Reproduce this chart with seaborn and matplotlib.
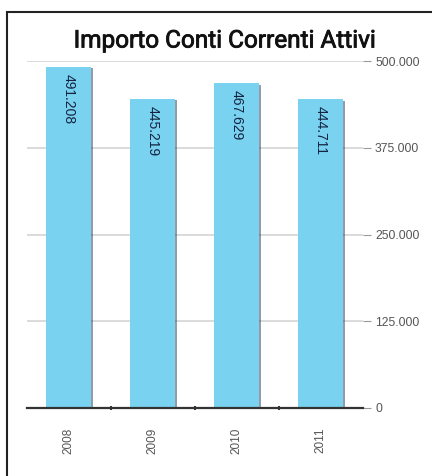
import matplotlib
matplotlib.use("Agg")
import matplotlib.pyplot as plt
import matplotlib.patheffects as pe
from matplotlib.patches import Rectangle
from matplotlib.ticker import FixedLocator
import seaborn as sns
import pandas as pd

# Data
anni = ["2008", "2009", "2010", "2011"]
importi = [491208, 445219, 467629, 444711]
etichette = ["491.208", "445.219", "467.629", "444.711"]
tick_valori = [0, 125000, 250000, 375000, 500000]
tick_testi = ["0", "125.000", "250.000", "375.000", "500.000"]
titolo = "Importo Conti Correnti Attivi"

sns.set_theme(style="white")
plt.rcParams["font.family"] = ["Liberation Sans", "DejaVu Sans"]

W, H = 432, 476
fig = plt.figure(figsize=(W / 100, H / 100), dpi=100)
ax = fig.add_axes([26.5 / W, (H - 408) / H, 336 / W, 347 / H])

df = pd.DataFrame({"anno": anni, "importo": importi})
sns.barplot(data=df, x="anno", y="importo", color="#78d2f0", width=0.54,
            saturation=1, ax=ax, zorder=3)

for patch in ax.patches:
    patch.set_edgecolor("none")
    patch.set_path_effects([
        pe.SimplePatchShadow(offset=(1.6, -1.0), shadow_rgbFace="#2b3a55", alpha=0.5),
        pe.Normal(),
    ])

# Value labels inside the bars
for i, (v, t) in enumerate(zip(importi, etichette)):
    ax.annotate(t, (i, v), xytext=(0, -5), textcoords="offset points",
                rotation=270, ha="center", va="top", fontsize=10,
                color="#14233f", zorder=5)

ax.set_xlim(-0.5, 3.5)
ax.set_ylim(0, 500000)

# Horizontal gridlines
for v in tick_valori[1:]:
    ax.axhline(v, color="#d4d4d4", lw=1.2, zorder=1)

ax.yaxis.tick_right()
ax.set_yticks(tick_valori)
ax.set_yticklabels(tick_testi)
ax.tick_params(axis="y", which="major", length=6, width=0.8, color="#999999",
               labelsize=8.8, labelcolor="#555555", pad=3, right=True, left=False)

ax.set_xticks(range(len(anni)))
ax.set_xticklabels(anni, rotation=90)
ax.tick_params(axis="x", which="major", length=0, labelsize=8.5,
               labelcolor="#555555", pad=14)
ax.xaxis.set_minor_locator(FixedLocator([0.5, 1.5, 2.5]))
ax.tick_params(axis="x", which="minor", bottom=True, length=3, width=1.5,
               color="#333333", direction="inout")

ax.set_xlabel("")
ax.set_ylabel("")
for s in ["top", "left", "right"]:
    ax.spines[s].set_visible(False)
ax.spines["bottom"].set_color("#333333")
ax.spines["bottom"].set_linewidth(1.6)
ax.spines["bottom"].set_zorder(6)

# Outer frame
fig.patches.append(Rectangle((7 / W, -0.1), 1.0, (H - 12) / H + 0.1,
                             transform=fig.transFigure, fill=False,
                             edgecolor="#222222", lw=1.5))

fig.text(224 / W, (H - 41) / H, titolo, ha="center", va="center",
         fontsize=17.5, color="#111111", fontweight="normal",
         family=["Roboto", "DejaVu Sans"],
         path_effects=[pe.withStroke(linewidth=0.6, foreground="#111111")])

fig.savefig("out.png", dpi=100)
